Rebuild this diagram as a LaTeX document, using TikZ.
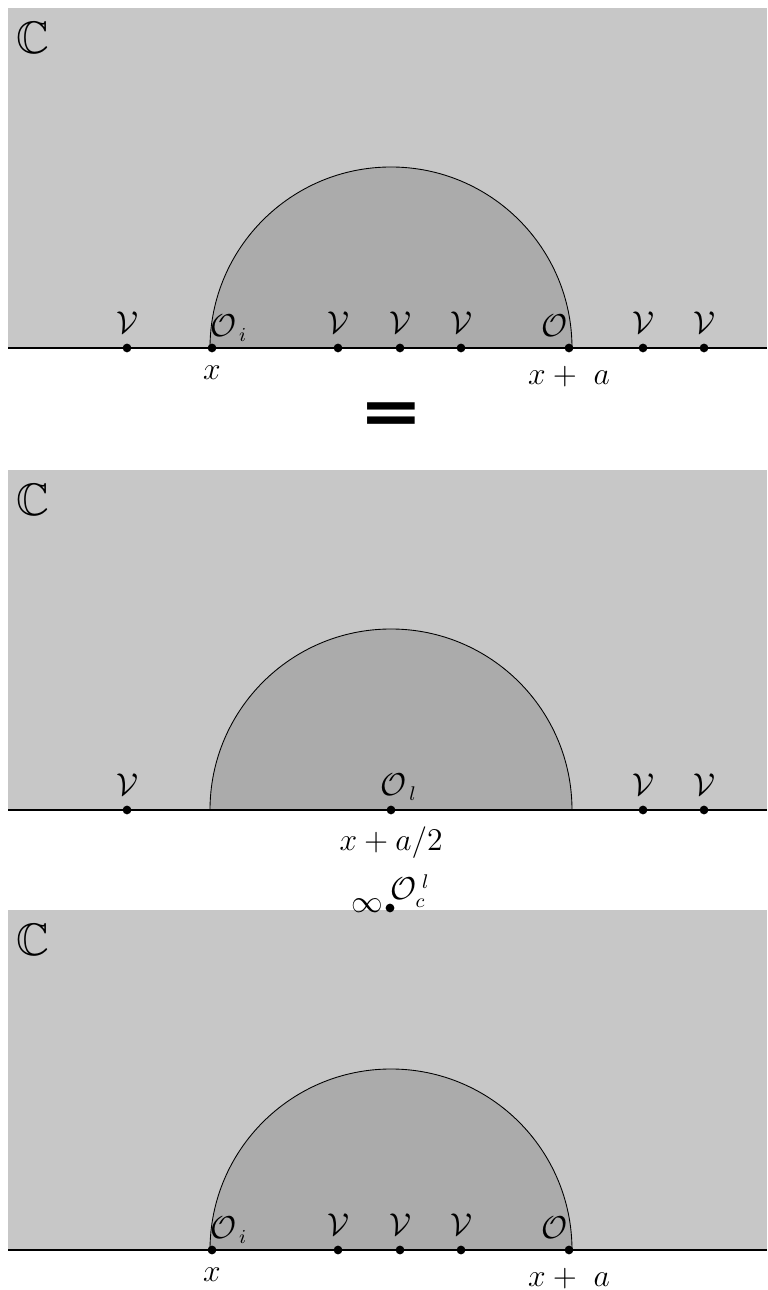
\documentclass[tikz,border=0pt]{standalone}
\usepackage{amssymb}
\usepackage[no-math]{fontspec}
\newfontfamily\eqfont{DejaVu Sans}
\usetikzlibrary{positioning}

\tikzset{
    plane/.style={fill=black!22},
    disk/.style={draw, thin, fill=black!33},
    axis/.style={line width=1pt},
    pt/.style={circle, fill, inner sep=0pt, minimum size=1.4mm},
    tag/.style={inner sep=0pt}
}

\begin{document}
\begin{tikzpicture}[node distance=1mm, font=\fontsize{13.5}{16}\selectfont]
\useasboundingbox (0,0) rectangle (12.272,20.64);

% ===== Top: full line =====
\begin{scope}[shift={(0,15.072)}]
    \fill[plane] (0.128,0) rectangle (12.272,5.44);
    \node at (0.53,4.96) {\huge$\mathbb{C}$};
    \draw[disk] (3.36,0) arc[start angle=180, end angle=0, radius=2.896] -- cycle;
    \draw[axis] (0.128,0) -- (12.272,0);
    \node[pt] (a1) at (2.032,0) {};
    \node[pt] (a2) at (3.392,0) {};
    \node[pt] (a3) at (5.408,0) {};
    \node[pt] (a4) at (6.4,0) {};
    \node[pt] (a5) at (7.376,0) {};
    \node[pt] (a6) at (9.104,0) {};
    \node[pt] (a7) at (10.288,0) {};
    \node[pt] (a8) at (11.264,0) {};
    \foreach \n in {a1,a3,a4,a5,a7,a8}
        \node[above=0.3mm of \n] {$\mathcal{V}$};
    \node[tag, anchor=base west] at ([yshift=1.8mm,xshift=-0.3mm]a2.center) {$\mathcal{O}_{\,i}$};
    \node[tag, anchor=base east] at ([yshift=1.8mm,xshift=-0.2mm]a6.center) {$\mathcal{O}$};
    \node[below=0.9mm of a2] {$x$};
    \node[below=0.9mm of a6] {$x+\ a$};
\end{scope}

\node (eq) at (6.256,13.95) {\resizebox*{29pt}{14pt}{\eqfont\bfseries =}};

% ===== Middle: fused operator =====
\begin{scope}[shift={(0,7.68)}]
    \fill[plane] (0.128,0) rectangle (12.272,5.44);
    \node at (0.53,4.96) {\huge$\mathbb{C}$};
    \draw[disk] (3.36,0) arc[start angle=180, end angle=0, radius=2.896] -- cycle;
    \draw[axis] (0.128,0) -- (12.272,0);
    \node[pt] (b1) at (2.032,0) {};
    \node[pt] (b2) at (6.256,0) {};
    \node[pt] (b3) at (10.288,0) {};
    \node[pt] (b4) at (11.264,0) {};
    \foreach \n in {b1,b3,b4}
        \node[above=0.3mm of \n] {$\mathcal{V}$};
    \node[tag, anchor=base west] at ([yshift=2.3mm,xshift=-1.7mm]b2.center) {$\mathcal{O}_{\,l}$};
    \node[below=0.6mm of b2] {$x+a/2$};
\end{scope}

% ===== Bottom: inner correlator =====
\begin{scope}[shift={(0,0.64)}]
    \fill[plane] (0.128,0) rectangle (12.272,5.44);
    \node at (0.53,4.96) {\huge$\mathbb{C}$};
    \draw[disk] (3.36,0) arc[start angle=180, end angle=0, radius=2.896] -- cycle;
    \draw[axis] (0.128,0) -- (12.272,0);
    \node[pt] (c1) at (3.392,0) {};
    \node[pt] (c2) at (5.408,0) {};
    \node[pt] (c3) at (6.4,0) {};
    \node[pt] (c4) at (7.376,0) {};
    \node[pt] (c5) at (9.104,0) {};
    \foreach \n in {c2,c3,c4}
        \node[above=0.3mm of \n] {$\mathcal{V}$};
    \node[tag, anchor=base west] at ([yshift=1.8mm,xshift=-0.3mm]c1.center) {$\mathcal{O}_{\,i}$};
    \node[tag, anchor=base east] at ([yshift=1.8mm,xshift=-0.2mm]c5.center) {$\mathcal{O}$};
    \node[below=0.9mm of c1] {$x$};
    \node[below=0.9mm of c5] {$x+\ a$};
    % point at infinity
    \node[pt] (inf) at (6.24,5.472) {};
    \node[tag, left=0.2mm of inf, yshift=0.4mm] {$\infty$};
    \node[tag, anchor=base west] at ([yshift=1.3mm,xshift=0mm]inf.center) {$\mathcal{O}_{c}^{\;l}$};
\end{scope}

\end{tikzpicture}
\end{document}
